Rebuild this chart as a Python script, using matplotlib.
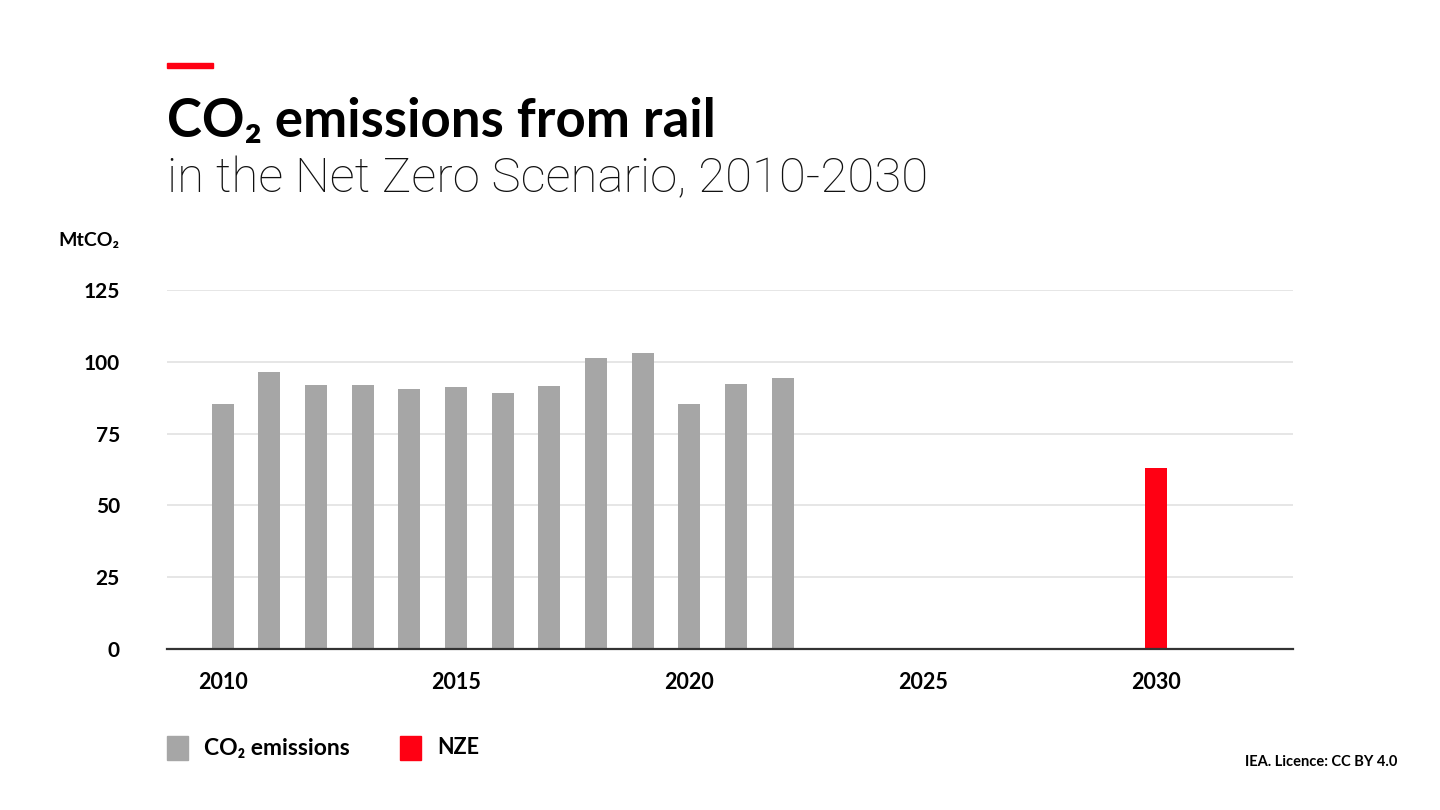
import matplotlib.pyplot as plt
from matplotlib.patches import Rectangle

# Data
years = [2010, 2011, 2012, 2013, 2014, 2015, 2016, 2017, 2018, 2019, 2020, 2021, 2022]
emissions = [85.2, 96.5, 91.9, 91.9, 90.5, 91.1, 89.1, 91.7, 101.3, 103.0, 85.4, 92.1, 94.4]
nze_years = [2030]
nze_values = [63.0]
xticks = [2010, 2015, 2020, 2025, 2030]
yticks = [0, 25, 50, 75, 100, 125]

GREY = "#a6a6a6"
RED = "#ff0013"
FONT = ["Lato", "DejaVu Sans"]
plt.rcParams["font.family"] = FONT

fig = plt.figure(figsize=(14.4, 8.1), dpi=100)
ax = fig.add_axes([0.116, 0.199, 0.782, 0.443])

ax.bar(years, emissions, width=0.47, color=GREY, zorder=3)
ax.bar(nze_years, nze_values, width=0.47, color=RED, zorder=3)

ax.set_xlim(2008.81, 2032.93)
ax.set_ylim(0, 125)
ax.set_xticks(xticks)
ax.set_yticks(yticks)
ax.set_xticklabels([str(t) for t in xticks], fontsize=15.5, fontweight="bold")
ax.set_yticklabels([str(t) for t in yticks], fontsize=15, fontweight="bold")
ax.tick_params(axis="both", length=0)
ax.tick_params(axis="x", pad=17)
ax.tick_params(axis="y", pad=34)
for lab in ax.get_yticklabels():
    lab.set_horizontalalignment("right")

ax.grid(axis="y", color="#e2e2e2", linewidth=1.2, zorder=0)
for s in ["top", "right", "left"]:
    ax.spines[s].set_visible(False)
ax.spines["bottom"].set_color("#333333")
ax.spines["bottom"].set_linewidth(1.6)
ax.spines["bottom"].set_zorder(4)

# Title block
fig.patches.append(Rectangle((167 / 1440, 1 - 68 / 810), 46 / 1440, 5 / 810,
                             transform=fig.transFigure, color=RED))
fig.text(167 / 1440, 1 - 137 / 810, "CO₂ emissions from rail", fontsize=38,
         fontweight="bold", ha="left", va="baseline")
fig.text(167 / 1440, 1 - 192 / 810, "in the Net Zero Scenario, 2010-2030", fontsize=35.5,
         family=["Roboto", "DejaVu Sans"], fontweight="light", color="#111111",
         ha="left", va="baseline")

fig.text(119 / 1440, 1 - 240 / 810, "MtCO₂", fontsize=14, fontweight="bold",
         ha="right", va="center")

# Legend
fig.patches.append(Rectangle((167 / 1440, 1 - 760 / 810), 21 / 1440, 24 / 810,
                             transform=fig.transFigure, color=GREY))
fig.text(204 / 1440, 1 - 748 / 810, "CO₂ emissions", fontsize=16.5, fontweight="bold",
         ha="left", va="center")
fig.patches.append(Rectangle((400 / 1440, 1 - 760 / 810), 21 / 1440, 24 / 810,
                             transform=fig.transFigure, color=RED))
fig.text(437 / 1440, 1 - 748 / 810, "NZE", fontsize=15.5, fontweight="bold",
         ha="left", va="center")

fig.text(1397 / 1440, 1 - 762 / 810, "IEA. Licence: CC BY 4.0", fontsize=10.5,
         fontweight="bold", ha="right", va="center")

fig.savefig("out.png", dpi=100)
